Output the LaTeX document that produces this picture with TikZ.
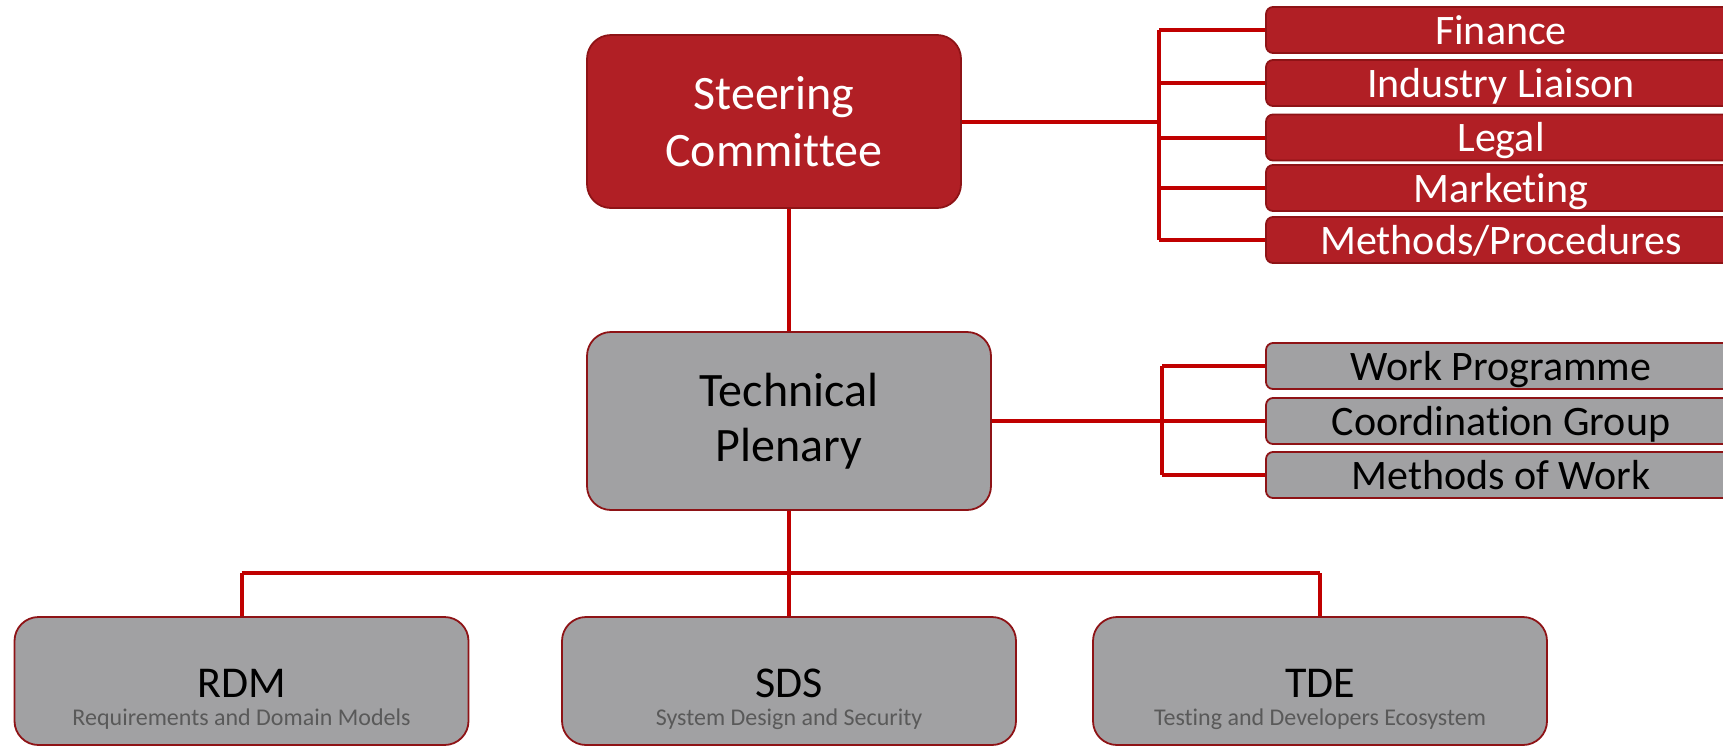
\documentclass[tikz,border=0pt]{standalone}
\usepackage{fontspec}
\setmainfont[RawFeature={-liga;-clig}]{Carlito}
\definecolor{boxred}{HTML}{B11F25}
\definecolor{edgered}{HTML}{8E1316}
\definecolor{linered}{HTML}{C00000}
\definecolor{boxgrey}{HTML}{A1A1A3}
\definecolor{subgrey}{HTML}{595959}
\tikzset{
  mainbox/.style={draw=edgered, line width=1.8pt, rounded corners=24pt, align=center, inner sep=0pt,
    font=\fontsize{48}{57}\selectfont},
  redmain/.style={mainbox, fill=boxred, text=white},
  greymain/.style={mainbox, fill=boxgrey, text=black},
  sidebox/.style={draw=edgered, line width=1.8pt, rounded corners=7pt, inner sep=0pt,
    minimum width=470pt, minimum height=46pt, text height=28pt, text depth=0pt,
    font=\fontsize{42}{50}\selectfont},
  redside/.style={sidebox, fill=boxred, text=white},
  greyside/.style={sidebox, fill=boxgrey, text=black},
  groupbox/.style={draw=edgered, line width=1.8pt, rounded corners=24pt, fill=boxgrey,
    minimum width=454pt, minimum height=128pt, inner sep=0pt},
  grouptitle/.style={anchor=base, inner sep=0pt, font=\fontsize{44}{52}\selectfont, text=black},
  groupsub/.style={anchor=base, inner sep=0pt, font=\fontsize{24}{28}\selectfont, text=subgrey},
  conn/.style={draw=linered, line width=4pt},
}
\begin{document}
\begin{tikzpicture}[x=1pt,y=-1pt]
\useasboundingbox (0,0) rectangle (1723,745);
\clip (0,0) rectangle (1723,745);

% main boxes
\node[redmain, minimum width=374pt, minimum height=173pt] (sc) at (774,121.5) {Steering\\Committee};
\node[greymain, minimum width=404pt, minimum height=178pt] (tp) at (789,421) {Technical\\[-2pt]Plenary};

% side boxes (steering)
\node[redside] (fin) at (1501,30) {Finance};
\node[redside] (ind) at (1501,83) {Industry Liaison};
\node[redside] (leg) at (1501,137.5) {Legal};
\node[redside] (mkt) at (1501,188) {Marketing};
\node[redside] (mp)  at (1501,240) {Methods/Procedures};

% side boxes (plenary)
\node[greyside] (wp) at (1501,366) {Work Programme};
\node[greyside] (cg) at (1501,421) {Coordination Group};
\node[greyside] (mw) at (1501,475) {Methods of Work};

% group boxes
\node[groupbox] (rdm) at (241.5,681) {};
\node[groupbox] (sds) at (789,681) {};
\node[groupbox] (tde) at (1320,681) {};
\node[grouptitle] (rdmt) at (241.5,697) {RDM};
\node[groupsub] (rdms) at (241.5,725) {Requirements and Domain Models};
\node[grouptitle] (sdst) at (789,697) {SDS};
\node[groupsub] (sdss) at (789,725) {System Design and Security};
\node[grouptitle] (tdet) at (1320,697) {TDE};
\node[groupsub] (tdes) at (1320,725) {Testing and Developers Ecosystem};

% connectors: steering bracket
\coordinate (scj) at (1159,121.5);
\draw[conn] (sc.east) -- (scj);
\draw[conn] (fin.west -| scj) -- (mp.west -| scj);
\foreach \n in {fin,ind,leg,mkt,mp} \draw[conn] (\n.west -| scj) -- (\n.west);

% connectors: plenary bracket
\coordinate (tpj) at (1162,421);
\draw[conn] (tp.east) -- (tpj);
\draw[conn] (wp.west -| tpj) -- (mw.west -| tpj);
\foreach \n in {wp,cg,mw} \draw[conn] (\n.west -| tpj) -- (\n.west);

% vertical hierarchy
\draw[conn] (tp.north |- sc.south) -- (tp.north);
\coordinate (bj) at (789,573);
\draw[conn] (tp.south) -- (sds.north);
\draw[conn] (rdm.north |- bj) -- (tde.north |- bj);
\draw[conn] (rdm.north |- bj) -- (rdm.north);
\draw[conn] (tde.north |- bj) -- (tde.north);
\end{tikzpicture}
\end{document}
